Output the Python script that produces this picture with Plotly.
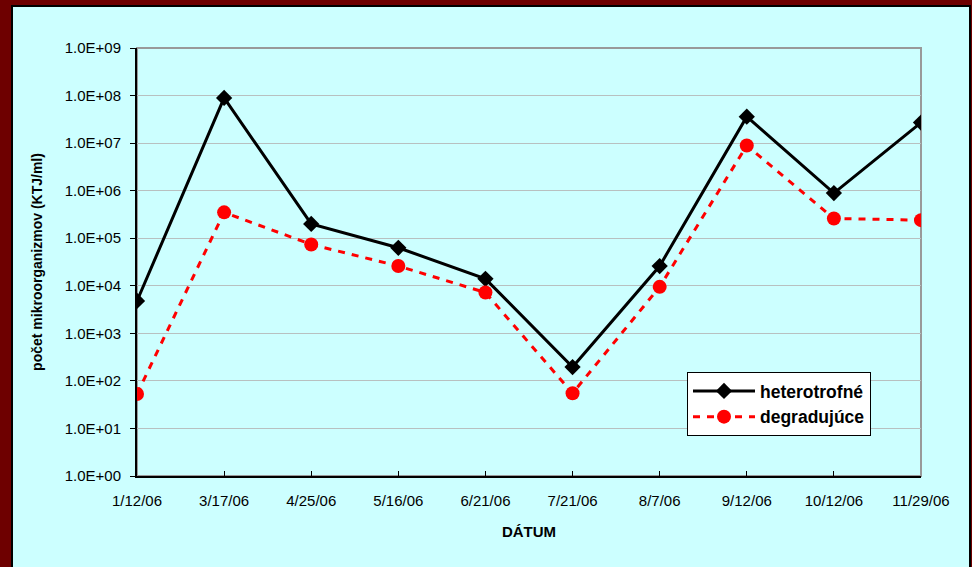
import plotly.graph_objects as go

dates = ["1/12/06", "3/17/06", "4/25/06", "5/16/06", "6/21/06",
         "7/21/06", "8/7/06", "9/12/06", "10/12/06", "11/29/06"]
heterotrofne = [4.8e3, 8.9e7, 2.0e5, 6.3e4, 1.4e4, 1.95e2, 2.6e4, 3.6e7, 8.9e5, 2.7e7]
degradujuce = [53, 3.5e5, 7.4e4, 2.6e4, 7.2e3, 55, 9.5e3, 8.9e6, 2.6e5, 2.4e5]
y_tickvals = [1e0, 1e1, 1e2, 1e3, 1e4, 1e5, 1e6, 1e7, 1e8, 1e9]
y_ticktext = ["1.0E+00", "1.0E+01", "1.0E+02", "1.0E+03", "1.0E+04",
              "1.0E+05", "1.0E+06", "1.0E+07", "1.0E+08", "1.0E+09"]

FONT = "Liberation Sans, Arial, sans-serif"
CYAN = "#CCFFFF"
MAROON = "#6E0000"

fig = go.Figure()
fig.add_trace(go.Scatter(
    x=dates, y=heterotrofne, name="heterotrofné", mode="lines+markers",
    line=dict(color="black", width=3),
    marker=dict(symbol="diamond", size=12.5, color="black"),
))
fig.add_trace(go.Scatter(
    x=dates, y=degradujuce, name="degradujúce", mode="lines+markers",
    line=dict(color="#FF0000", width=3, dash="7px,7px"),
    marker=dict(symbol="circle", size=14, color="#FF0000"),
))

W, H = 972, 567
L, R, T, B = 137, 51, 48, 91
pw, ph = W - L - R, H - T - B

def px_x(p):
    return (p - L) / pw

def px_y(p):
    return (H - B - p) / ph

fig.update_layout(
    width=W, height=H,
    margin=dict(l=L, r=R, t=T, b=B),
    paper_bgcolor=MAROON,
    plot_bgcolor=CYAN,
    font=dict(family=FONT, size=15, color="black"),
    showlegend=True,
    legend=dict(
        x=px_x(687), y=px_y(372), xanchor="left", yanchor="top",
        bgcolor="white", bordercolor="black", borderwidth=1,
        font=dict(family=FONT, size=17.5, color="black", weight="bold"),
        tracegroupgap=0, itemwidth=62,
    ),
    shapes=[
        dict(type="rect", xref="paper", yref="paper",
             x0=px_x(12), x1=px_x(970), y0=px_y(600), y1=px_y(6),
             fillcolor=CYAN, line=dict(color="black", width=2), layer="below"),
        dict(type="rect", xref="paper", yref="paper",
             x0=0, x1=1, y0=0, y1=1,
             fillcolor="rgba(0,0,0,0)", line=dict(color="#999999", width=2), layer="below"),
    ],
)

fig.update_xaxes(
    type="category", range=[0, len(dates) - 1],
    showline=True, linecolor="black", linewidth=2,
    ticks="inside", ticklen=5, tickcolor="black", tickwidth=1,
    ticklabelstandoff=10,
    showgrid=False, zeroline=False,
    tickfont=dict(family=FONT, size=15, color="black"),
    title=dict(text="DÁTUM", font=dict(family=FONT, size=15, color="black", weight="bold"), standoff=18),
)
fig.update_yaxes(
    type="log", range=[0, 9],
    tickvals=y_tickvals, ticktext=y_ticktext,
    showline=True, linecolor="black", linewidth=2,
    ticks="outside", ticklen=5, tickcolor="black", tickwidth=1,
    ticklabelstandoff=6,
    showgrid=True, gridcolor="#B8C0C0", gridwidth=1, zeroline=False,
    tickfont=dict(family=FONT, size=15, color="black"),
    title=dict(text="počet mikroorganizmov (KTJ/ml)",
               font=dict(family=FONT, size=14, color="black", weight="bold"), standoff=19),
)

fig.write_html("out.html", config={"displayModeBar": False},
               post_script="document.body.style.margin='0';document.body.style.padding='0';document.body.style.overflow='hidden';")
